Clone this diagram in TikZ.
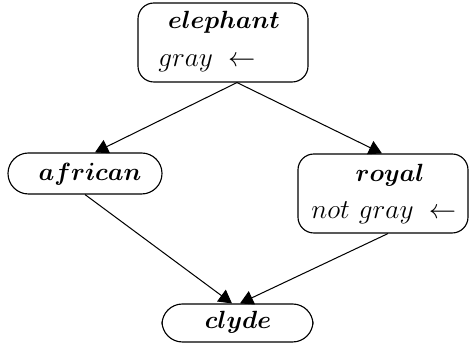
\documentclass[tikz,border=0pt]{standalone}
\usepackage{bm}
\usetikzlibrary{arrows.meta}
\begin{document}
\begin{tikzpicture}[x=0.44pt,y=-0.44pt,
  box/.style={draw,line width=0.5pt,rounded corners=7pt,inner sep=0pt},
  pill/.style={draw,line width=0.5pt,rounded corners=9pt,inner sep=0pt},
  lbl/.style={inner sep=0pt,anchor=center,font=\fontsize{11}{13}\selectfont},
  txt/.style={inner sep=0pt,anchor=west,font=\fontsize{12.4}{14}\selectfont},
  edge/.style={line width=0.45pt,-{Triangle[length=5.8pt,width=6.4pt]}}]
\useasboundingbox (0,0) rectangle (471,345);
\node[box,minimum width=170*0.44pt,minimum height=79*0.44pt] (eleph) at (223,42.5) {};
\node[pill,minimum width=154*0.44pt,minimum height=41*0.44pt] (afr) at (85,173.5) {};
\node[box,minimum width=170*0.44pt,minimum height=79*0.44pt] (roy) at (383,193.5) {};
\node[pill,minimum width=151*0.44pt,minimum height=38*0.44pt] (cly) at (237.5,323) {};
\node[lbl] (t1) at (224,22) {$\bm{elephant}$};
\node[txt] (t2) at (158,63) {$gray\;\leftarrow$};
\node[lbl] (t3) at (90,174) {$\bm{african}$};
\node[lbl] (t4) at (390,175) {$\bm{royal}$};
\node[txt] (t5) at (311,213) {$not\ gray\;\leftarrow$};
\node[lbl] (t6) at (238,322) {$\bm{clyde}$};
\draw[edge] ([xshift=14*0.44pt]eleph.south) -- ([xshift=10*0.44pt]afr.north);
\draw[edge] ([xshift=14*0.44pt]eleph.south) -- ([xshift=-1*0.44pt]roy.north);
\draw[edge] ([xshift=0*0.44pt]afr.south) -- ([xshift=-5.5*0.44pt]cly.north);
\draw[edge] ([xshift=5*0.44pt]roy.south) -- ([xshift=2.5*0.44pt]cly.north);
\end{tikzpicture}
\end{document}
